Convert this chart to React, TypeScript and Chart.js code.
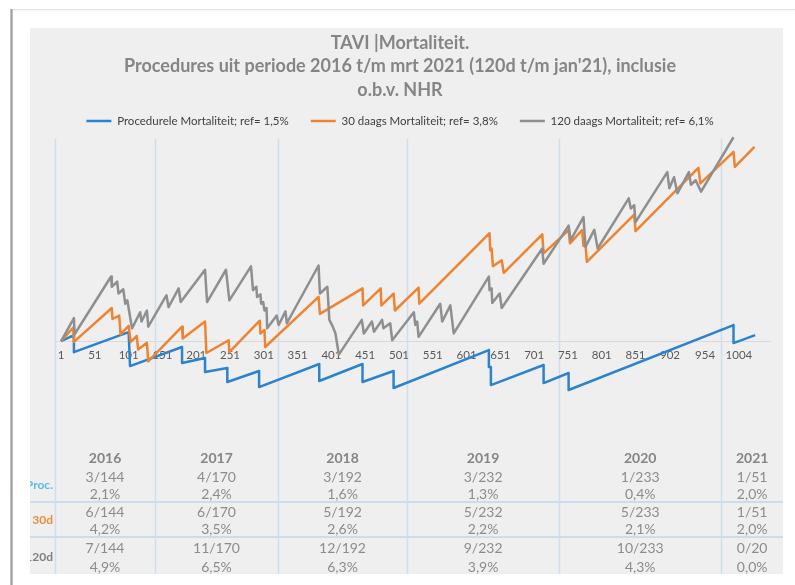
import React, { useEffect, useRef, useState } from 'react';
import { Chart, registerables } from 'chart.js';

Chart.register(...registerables);

// ---------- chart text ----------
const titleLines = [
  'TAVI |Mortaliteit.',
  "Procedures uit periode 2016 t/m mrt 2021 (120d t/m jan'21), inclusie",
  'o.b.v. NHR',
];
const seriesNames = [
  'Procedurele Mortaliteit; ref= 1,5%',
  '30 daags Mortaliteit; ref= 3,8%',
  '120 daags Mortaliteit; ref= 6,1%',
];
const seriesColors = ['#2b83cf', '#ee8431', '#8f8f8f'];

// ---------- axis ----------
const tickLabels = [1, 51, 101, 151, 201, 251, 301, 351, 401, 451, 501, 551, 601, 651, 701, 751, 801, 851, 902, 954, 1004];
const yearBoundaries = [-8, 140, 322, 513, 738, 978];

// ---------- series (procedure index, cumulative expected - observed) ----------
const procX = [1, 20, 20, 101, 103, 180, 180, 214, 214, 247, 247, 294, 294, 383, 383, 447, 447, 493, 493, 634, 634, 637, 637, 715, 715, 752, 752, 996, 996, 1028];
const procY = [0, 0.35, -0.65, 0.53, -1.47, -0.35, -1.29, -1.0, -1.82, -1.59, -2.41, -1.76, -2.71, -1.35, -2.35, -1.35, -2.41, -1.76, -2.76, -0.53, -1.53, -1.53, -2.59, -1.41, -2.47, -1.88, -2.88, 0.94, -0.12, 0.35];

const d30X = [1, 19, 20, 76, 77, 87, 89, 101, 104, 113, 115, 128, 130, 180, 181, 214, 216, 249, 250, 295, 296, 302, 303, 382, 384, 447, 448, 474, 475, 493, 495, 530, 531, 635, 636, 638, 640, 653, 656, 713, 715, 752, 754, 772, 774, 777, 779, 849, 851, 944, 947, 996, 998, 1027];
const d30Y = [0, 0.8, -0.05, 1.95, 1.3, 1.5, 0.4, 0.9, -0.05, 0.3, -0.5, -0.1, -1.2, 0.85, 0.15, 1.15, -0.7, 0.05, -0.65, 1.2, 0.45, 0.65, -0.35, 2.6, 1.6, 3.1, 2.1, 3.1, 2.1, 2.8, 1.8, 3.15, 2.2, 6.35, 5.35, 5.45, 4.41, 4.76, 4.02, 6.28, 5.16, 6.53, 5.75, 6.53, 5.6, 5.7, 4.66, 7.45, 6.47, 10.2, 9.28, 11.14, 10.25, 11.43];

const d120X = [1, 20, 21, 75, 76, 84, 86, 93, 96, 99, 103, 106, 118, 120, 128, 130, 157, 160, 175, 178, 214, 217, 245, 250, 282, 285, 290, 291, 296, 297, 300, 302, 305, 306, 320, 323, 333, 335, 382, 384, 395, 398, 403, 407, 412, 446, 449, 461, 464, 476, 478, 488, 491, 523, 525, 528, 530, 562, 565, 577, 582, 634, 635, 638, 639, 650, 653, 713, 715, 752, 755, 774, 777, 790, 795, 841, 844, 849, 851, 898, 901, 908, 913, 930, 933, 940, 948, 996];
const d120Y = [0, 1.35, 0.4, 3.8, 3.2, 3.5, 2.8, 3.05, 2.2, 2.4, 1.45, 0.75, 1.7, 1.15, 1.8, 0.85, 2.7, 2.0, 3.1, 2.3, 4.2, 2.3, 4.2, 2.4, 4.4, 3.0, 3.2, 2.6, 2.75, 2.2, 2.3, 1.8, 1.95, 0.75, 1.5, 0.95, 1.75, 1.05, 4.45, 2.8, 3.2, 1.25, 0.85, 0.45, -0.8, 1.25, 0.45, 1.15, 0.55, 1.25, 0.75, 1.05, 0.05, 1.7, 0.95, 1.15, 0.25, 2.2, 1.15, 2.1, 0.45, 3.8, 3.0, 3.1, 2.25, 2.8, 1.95, 5.45, 4.55, 6.8, 5.95, 7.3, 5.55, 6.55, 5.45, 8.4, 7.8, 8.0, 7.0, 9.95, 9.0, 9.65, 8.7, 9.95, 9.2, 9.47, 8.8, 12.0];

// ---------- table below the chart ----------
const years = ['2016', '2017', '2018', '2019', '2020', '2021'];
const procCounts = ['3/144', '4/170', '3/192', '3/232', '1/233', '1/51'];
const procPct = ['2,1%', '2,4%', '1,6%', '1,3%', '0,4%', '2,0%'];
const d30Counts = ['6/144', '6/170', '5/192', '5/232', '5/233', '1/51'];
const d30Pct = ['4,2%', '3,5%', '2,6%', '2,2%', '2,1%', '2,0%'];
const d120Counts = ['7/144', '11/170', '12/192', '9/232', '10/233', '0/20'];
const d120Pct = ['4,9%', '6,5%', '6,3%', '3,9%', '4,3%', '0,0%'];
const rowLabels = ['Proc.', '30d', '120d'];

const PANEL_W = 753;
const PANEL_H = 546;
const FONT = 'Lato, "Open Sans", sans-serif';

const toPts = (xs: number[], ys: number[]) => xs.map((x, i) => ({ x, y: ys[i] }));

const yearLinesPlugin = {
  id: 'yearLines',
  beforeDraw(chart: any) {
    const { ctx, chartArea, scales } = chart;
    const x = scales.x;
    ctx.save();
    ctx.strokeStyle = '#cfdeec';
    ctx.lineWidth = 1.5;
    yearBoundaries.forEach((v) => {
      const px = Math.round(x.getPixelForValue(v)) + 0.5;
      ctx.beginPath();
      ctx.moveTo(px, chartArea.top + 2);
      ctx.lineTo(px, chart.height);
      ctx.stroke();
    });
    ctx.restore();
  },
};

export default function App() {
  const canvasRef = useRef<HTMLCanvasElement>(null);
  const [edges, setEdges] = useState<number[]>([]);

  useEffect(() => {
    Chart.defaults.font.family = FONT;
    const series = [toPts(procX, procY), toPts(d30X, d30Y), toPts(d120X, d120Y)];
    const chart = new Chart(canvasRef.current as HTMLCanvasElement, {
      type: 'line',
      data: {
        datasets: series.map((data, i) => ({
          label: seriesNames[i],
          data,
          borderColor: seriesColors[i],
          backgroundColor: seriesColors[i],
          borderWidth: 2.5,
          pointRadius: 0,
          pointHoverRadius: 0,
          tension: 0,
          fill: false,
          clip: false as any,
          borderJoinStyle: 'round' as const,
          order: 2 - i,
        })),
      },
      options: {
        responsive: false,
        animation: false,
        devicePixelRatio: 1,
        layout: { padding: { left: 0, right: 13, top: 0, bottom: 131 } },
        plugins: {
          title: {
            display: true,
            text: titleLines,
            color: '#858585',
            font: { family: FONT, size: 18, weight: 'bold', lineHeight: 1.3 },
            padding: { top: 3.5, bottom: -8.45 },
          },
          legend: {
            display: true,
            position: 'top',
            labels: {
              usePointStyle: true,
              pointStyle: 'line',
              pointStyleWidth: 25,
              padding: 22,
              color: '#404040',
              font: { family: FONT, size: 11.5 },
              sort: (a: any, b: any) => a.datasetIndex - b.datasetIndex,
            },
          },
          tooltip: { enabled: false },
        },
        scales: {
          x: {
            type: 'linear',
            position: { y: 0 } as any,
            min: -8,
            max: 1050,
            afterBuildTicks: (axis: any) => {
              axis.ticks = tickLabels.map((v) => ({ value: v }));
            },
            ticks: {
              autoSkip: false,
              maxRotation: 0,
              padding: 7,
              color: '#595959',
              font: { family: FONT, size: 11.5 },
              callback: (v: any) => String(v),
            },
            grid: { display: false, drawTicks: false },
            border: { display: true, color: '#dadada', width: 1 },
          },
          y: {
            type: 'linear',
            min: -6,
            max: 12.03,
            display: true,
            ticks: { display: false },
            grid: { display: false, drawTicks: false },
            border: { display: false },
            afterFit: (s: any) => {
              s.width = 25;
            },
          },
        },
      } as any,
      plugins: [yearLinesPlugin],
    });
    const xs = chart.scales.x;
    setEdges([...yearBoundaries.map((v) => xs.getPixelForValue(v)), PANEL_W]);
    return () => chart.destroy();
  }, []);

  const rows: { vals: string[]; center: number; bold?: boolean; color: string; size: number }[] = [
    { vals: years, center: 430, bold: true, color: '#858585', size: 14 },
    { vals: procCounts, center: 449, color: '#8c8c8c', size: 14 },
    { vals: procPct, center: 466, color: '#8c8c8c', size: 14 },
    { vals: d30Counts, center: 484, color: '#8c8c8c', size: 14 },
    { vals: d30Pct, center: 501, color: '#8c8c8c', size: 14 },
    { vals: d120Counts, center: 520, color: '#8c8c8c', size: 14 },
    { vals: d120Pct, center: 539, color: '#8c8c8c', size: 14 },
  ];
  const labelRows = [
    { text: rowLabels[0], center: 457, color: '#52bde8' },
    { text: rowLabels[1], center: 492, color: '#ef8a3c' },
    { text: rowLabels[2], center: 529, color: '#808080' },
  ];

  return (
    <div style={{ position: 'fixed', left: 0, top: 0, width: 795, height: 585, background: '#ffffff', overflow: 'hidden', fontFamily: FONT }}>
      <div style={{ position: 'absolute', left: 12, top: 9, width: 783, height: 1, background: '#e2e2e2', boxShadow: '0 1px 2px rgba(0,0,0,0.06)' }} />
      <div style={{ position: 'absolute', left: 10, top: 9, width: 3, height: 576, background: 'linear-gradient(to right, #d6d6d6, #9c9c9c, #d2d2d2)' }} />
      <div style={{ position: 'absolute', left: 30, top: 28, width: PANEL_W, height: PANEL_H, background: '#efefef', overflow: 'hidden' }}>
        <canvas ref={canvasRef} width={PANEL_W} height={PANEL_H} style={{ position: 'absolute', left: 0, top: 0, width: PANEL_W, height: PANEL_H }} />
        <div style={{ position: 'absolute', left: 0, top: 473, width: PANEL_W, height: 2, background: '#cbdcec' }} />
        <div style={{ position: 'absolute', left: 0, top: 508, width: PANEL_W, height: 2, background: '#cbdcec' }} />
        {edges.length === 7 &&
          rows.map((r, ri) =>
            r.vals.map((v, ci) => (
              <div
                key={`${ri}-${ci}`}
                style={{
                  position: 'absolute',
                  left: edges[ci],
                  width: edges[ci + 1] - edges[ci],
                  top: r.center - 9,
                  height: 18,
                  lineHeight: '18px',
                  textAlign: 'center',
                  fontSize: r.size,
                  fontWeight: r.bold ? 700 : 400,
                  color: r.color,
                  whiteSpace: 'nowrap',
                }}
              >
                {v}
              </div>
            ))
          )}
        {labelRows.map((l, i) => (
          <div
            key={`lab-${i}`}
            style={{
              position: 'absolute',
              left: -12,
              width: 35,
              top: l.center - 9,
              height: 18,
              lineHeight: '18px',
              textAlign: 'right',
              fontSize: 12,
              fontWeight: 700,
              color: l.color,
              whiteSpace: 'nowrap',
            }}
          >
            {l.text}
          </div>
        ))}
      </div>
    </div>
  );
}
